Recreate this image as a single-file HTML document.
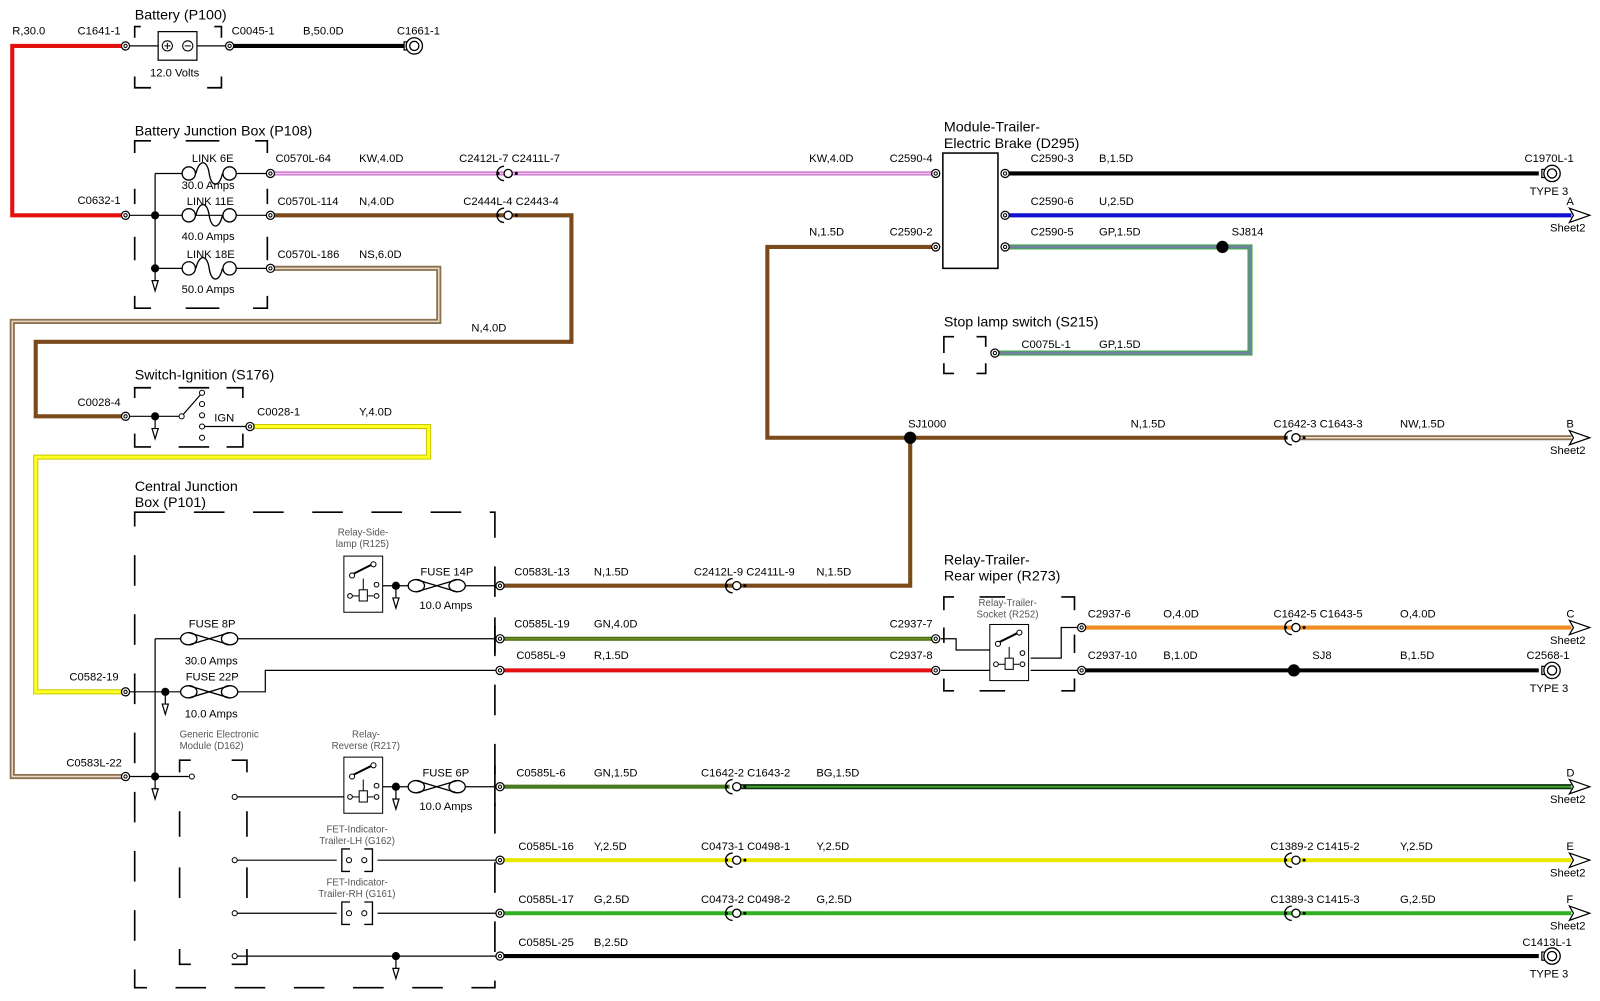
<!DOCTYPE html>
<html><head><meta charset="utf-8"><style>
html,body{margin:0;padding:0;background:#fff;}
svg{display:block;font-family:"Liberation Sans",sans-serif;}
.t{font-size:11px;fill:#000;}
.h{font-size:14px;fill:#000;}
.g{font-size:9.5px;fill:#555;}
</style></head><body>
<svg width="1600" height="1001" viewBox="0 0 1568 981" preserveAspectRatio="none" xmlns="http://www.w3.org/2000/svg">
<defs>
<g id="c"><circle r="4" fill="#fff" stroke="#000" stroke-width="1.2"/><circle r="1.6" fill="none" stroke="#000" stroke-width="1"/></g>
<g id="inl"><path d="M-2,-7 A7,7 0 0 0 -2,7" fill="none" stroke="#000" stroke-width="1.3"/><circle cx="2" r="4" fill="#fff" stroke="#000" stroke-width="1.3"/><circle cx="-8" r="1.5"/><circle cx="10" r="1.5"/></g>
<g id="fuse" fill="none" stroke="#000" stroke-width="1.3"><ellipse cx="-20" rx="8" ry="6" fill="#fff"/><ellipse cx="20" rx="8" ry="6" fill="#fff"/><path d="M-20,-6 L20,6 M-20,6 L20,-6"/></g>
<g id="link" fill="none" stroke="#000" stroke-width="1.3"><circle cx="-20" r="6.5" fill="#fff"/><circle cx="20" r="6.5" fill="#fff"/><path d="M-13,0 C-10,-14 -2,-14 0,0 C2,14 10,14 13,0"/></g>
<g id="gnd" fill="#fff" stroke="#000" stroke-width="1.2"><line x1="0" y1="0" x2="0" y2="12"/><path d="M-3,12 L3,12 L0,22 Z"/></g>
<g id="term"><rect x="-10" y="-4" width="5" height="8" fill="#fff" stroke="#000" stroke-width="1.2"/><circle r="8" fill="#fff" stroke="#000" stroke-width="1.3"/><circle r="4.5" fill="none" stroke="#000" stroke-width="1.3"/></g>
<g id="arr"><path d="M0,-7 L20,0 L0,7 L4,0 Z" fill="#fff" stroke="#000" stroke-width="1.2"/></g>
<g id="relay" fill="none" stroke="#000" stroke-width="1"><rect x="0" y="0" width="38" height="55" fill="#fff"/><line x1="8" y1="18" x2="28" y2="8" stroke-width="2"/><circle cx="8" cy="19" r="2.5" fill="#fff"/><circle cx="29" cy="8" r="2.5" fill="#fff"/><line x1="19" y1="22" x2="19" y2="33"/><rect x="15" y="33" width="8" height="11" fill="#fff"/><line x1="8" y1="39" x2="15" y2="39"/><line x1="23" y1="39" x2="29" y2="39"/><circle cx="6" cy="39" r="2.3" fill="#fff"/><circle cx="32" cy="39" r="2.3" fill="#fff"/><circle cx="32" cy="28" r="2.3" fill="#fff"/></g>
</defs>

<g fill="none" stroke-linejoin="miter">
<path d="M123,45 H12 V211 H123" stroke="#e41010" stroke-width="4"/>
<path d="M225,45 H398" stroke="#000" stroke-width="4"/>
<path d="M265,170 H917" stroke="#c870c8" stroke-width="4"/><path d="M265,170 H917" stroke="#f4c4f4" stroke-width="1.5"/>
<path d="M265,211 H560 V335 H35 V408 H123" stroke="#7a4a1a" stroke-width="4"/>
<path d="M265,263 H430 V315 H12 V761 H123" stroke="#8a7050" stroke-width="5"/><path d="M265,263 H430 V315 H12 V761 H123" stroke="#e8dcc8" stroke-width="1.5"/>
<path d="M245,418 H420 V448 H35 V678 H123" stroke="#c8c800" stroke-width="5"/><path d="M245,418 H420 V448 H35 V678 H123" stroke="#ffff20" stroke-width="3"/>
<path d="M985,170 H1508" stroke="#000" stroke-width="4"/>
<path d="M985,211 H1540" stroke="#1010d0" stroke-width="4"/>
<path d="M985,242 H1225 V346 H975" stroke="#40b040" stroke-width="5"/><path d="M985,242 H1225 V346 H975" stroke="#7080a0" stroke-width="3"/>
<path d="M917,242 H752 V429 H1262" stroke="#7a4a1a" stroke-width="4"/>
<path d="M892,429 V574 H490" stroke="#7a4a1a" stroke-width="4"/>
<path d="M1272,429 H1540" stroke="#8a7050" stroke-width="5"/><path d="M1272,429 H1540" stroke="#f0e4d0" stroke-width="1.5"/>
<path d="M490,626 H917" stroke="#4a6a10" stroke-width="4"/><path d="M490,626 H917" stroke="#6a9020" stroke-width="1.5"/>
<path d="M490,657 H917" stroke="#e41010" stroke-width="4"/>
<path d="M1062,615 H1540" stroke="#f08c20" stroke-width="4"/>
<path d="M1062,657 H1508" stroke="#000" stroke-width="4"/>
<path d="M490,771 H715" stroke="#4a7a20" stroke-width="4"/>
<path d="M725,771 H1540" stroke="#103010" stroke-width="5"/><path d="M725,771 H1540" stroke="#40a030" stroke-width="2"/>
<path d="M490,843 H1540" stroke="#e8e800" stroke-width="4"/>
<path d="M490,895 H1540" stroke="#30b020" stroke-width="4"/>
<path d="M490,937 H1508" stroke="#000" stroke-width="4"/>
</g>

<g fill="none" stroke="#000" stroke-width="1.2">
<path d="M127,45 H155 M193,45 H222"/>
<path d="M127,211 H265 M152,170 V263 M152,170 H178 M232,170 H265 M152,263 H178 M232,263 H265 M152,211 H178 M232,211 H265"/>
<path d="M127,408 H178 L198,385"/>
<path d="M198,418 H245"/>
<path d="M152,626 V761 M152,626 H178 M232,626 H490 M127,678 H178 M232,678 H260 V657 H490 M127,761 H185"/>
<path d="M375,574 H408 M448,574 H490"/>
<path d="M230,781 H340 M375,771 H408 M448,771 H490"/>
<path d="M230,843 H330 M370,843 H490 M230,895 H330 M370,895 H490 M230,937 H490"/>
<path d="M922,626 H937 V637 H975 M922,657 H970 M1010,645 H1040 V615 H1058 M1010,657 H1058"/>
</g>

<rect x="155" y="31" width="38" height="28" fill="#fff" stroke="#000" stroke-width="1.2"/>
<circle cx="164" cy="45" r="5" fill="none" stroke="#000"/><path d="M161,45 h6 M164,42 v6" stroke="#000"/>
<circle cx="184" cy="45" r="5" fill="none" stroke="#000"/><path d="M181,45 h6" stroke="#000"/>

<g fill="none" stroke="#000" stroke-width="1.6">
<path d="M132,37 V26 H138 M210,26 H217 V37 M132,75 V86 H148 M203,86 H217 V75"/>
<path d="M132,150 V138 H148 M182,138 H215 M250,138 H262 V150 M132,185 V200 M262,185 V200 M132,232 V255 M262,232 V255 M132,290 V302 H148 M182,302 H215 M248,302 H262 V290"/>
<path d="M132,390 V380 H148 M175,380 H205 M222,380 H238 V390 M132,425 V438 H148 M175,438 H205 M222,438 H238 V425"/>
<path d="M132,502 H485 V968 H132 Z" stroke-dasharray="30,28"/>
<path d="M176,757 V745 H187 M227,745 H242 V757 M176,795 V820 M242,795 V820 M176,850 V880 M242,850 V880 M176,930 V945 H187 M227,945 H242 V930"/>
<path d="M925,346 V330 H935 M957,330 H966 V340 M925,356 V366 H935 M957,366 H966 V356"/>
<path d="M925,598 V585 H935 M960,585 H985 M1040,585 H1053 V598 M925,615 V630 M1053,622 V640 M925,665 V677 H935 M960,677 H985 M1040,677 H1053 V665"/>
</g>
<g stroke="#000" stroke-width="1.6"><path d="M485,605 V640 M485,750 V790"/></g>

<g fill="#fff" stroke="#000" stroke-width="1"><circle cx="178" cy="408" r="2.5"/><circle cx="198" cy="385" r="2.5"/><circle cx="198" cy="396" r="2.5"/><circle cx="198" cy="407" r="2.5"/><circle cx="198" cy="418" r="2.5"/><circle cx="198" cy="429" r="2.5"/>
<circle cx="188" cy="761" r="2.5"/><circle cx="230" cy="781" r="2.5"/><circle cx="230" cy="843" r="2.5"/><circle cx="230" cy="895" r="2.5"/><circle cx="230" cy="937" r="2.5"/></g>

<use href="#link" x="205" y="170"/><use href="#link" x="205" y="211"/><use href="#link" x="205" y="263"/>
<use href="#fuse" x="205" y="626"/><use href="#fuse" x="205" y="678"/><use href="#fuse" x="428" y="574"/><use href="#fuse" x="428" y="771"/>
<use href="#relay" x="337" y="545"/><use href="#relay" x="337" y="742"/><use href="#relay" x="970" y="612"/>

<g fill="none" stroke="#000" stroke-width="1.3"><path d="M343,832 H335 V854 H343 M357,832 H365 V854 H357 M343,884 H335 V906 H343 M357,884 H365 V906 H357"/></g>
<g fill="#fff" stroke="#000"><circle cx="342" cy="843" r="2.5"/><circle cx="357" cy="843" r="2.5"/><circle cx="342" cy="895" r="2.5"/><circle cx="357" cy="895" r="2.5"/></g>

<rect x="924" y="150" width="54" height="113" fill="#fff" stroke="#000" stroke-width="1.5"/>

<g><circle cx="152" cy="211" r="4"/><circle cx="152" cy="263" r="4"/><circle cx="152" cy="408" r="4"/><circle cx="162" cy="678" r="4"/><circle cx="152" cy="761" r="4"/><circle cx="388" cy="574" r="4"/><circle cx="388" cy="771" r="4"/><circle cx="388" cy="937" r="4"/>
<circle cx="1198" cy="242" r="6"/><circle cx="892" cy="429" r="6"/><circle cx="1268" cy="657" r="6"/></g>
<use href="#gnd" x="152" y="263"/><use href="#gnd" x="152" y="408"/><use href="#gnd" x="162" y="678"/><use href="#gnd" x="152" y="761"/><use href="#gnd" x="388" y="574"/><use href="#gnd" x="388" y="771"/><use href="#gnd" x="388" y="937"/>

<use href="#c" x="123" y="45"/><use href="#c" x="225" y="45"/><use href="#c" x="123" y="211"/><use href="#c" x="265" y="170"/><use href="#c" x="265" y="211"/><use href="#c" x="265" y="263"/>
<use href="#c" x="123" y="408"/><use href="#c" x="245" y="418"/><use href="#c" x="123" y="678"/><use href="#c" x="123" y="761"/>
<use href="#c" x="490" y="574"/><use href="#c" x="490" y="626"/><use href="#c" x="490" y="657"/><use href="#c" x="490" y="771"/><use href="#c" x="490" y="843"/><use href="#c" x="490" y="895"/><use href="#c" x="490" y="937"/>
<use href="#c" x="917" y="170"/><use href="#c" x="917" y="242"/><use href="#c" x="985" y="170"/><use href="#c" x="985" y="211"/><use href="#c" x="985" y="242"/><use href="#c" x="975" y="346"/>
<use href="#c" x="917" y="626"/><use href="#c" x="917" y="657"/><use href="#c" x="1060" y="615"/><use href="#c" x="1060" y="657"/>
<use href="#inl" x="496" y="170"/><use href="#inl" x="496" y="211"/><use href="#inl" x="720" y="574"/><use href="#inl" x="720" y="771"/><use href="#inl" x="720" y="843"/><use href="#inl" x="720" y="895"/>
<use href="#inl" x="1268" y="429"/><use href="#inl" x="1268" y="615"/><use href="#inl" x="1268" y="843"/><use href="#inl" x="1268" y="895"/>
<use href="#term" x="406" y="45"/><use href="#term" x="1521" y="170"/><use href="#term" x="1521" y="657"/><use href="#term" x="1521" y="937"/>
<use href="#arr" x="1538" y="211"/><use href="#arr" x="1538" y="429"/><use href="#arr" x="1538" y="615"/><use href="#arr" x="1538" y="771"/><use href="#arr" x="1538" y="843"/><use href="#arr" x="1538" y="895"/>

<g class="h">
<text x="132" y="19">Battery (P100)</text>
<text x="132" y="133">Battery Junction Box (P108)</text>
<text x="132" y="372">Switch-Ignition (S176)</text>
<text x="132" y="481">Central Junction</text><text x="132" y="497">Box (P101)</text>
<text x="925" y="129">Module-Trailer-</text><text x="925" y="145">Electric Brake (D295)</text>
<text x="925" y="320">Stop lamp switch (S215)</text>
<text x="925" y="553">Relay-Trailer-</text><text x="925" y="569">Rear wiper (R273)</text>
</g>
<g class="t">
<text x="12" y="34">R,30.0</text><text x="76" y="34">C1641-1</text><text x="147" y="75">12.0 Volts</text>
<text x="227" y="34">C0045-1</text><text x="297" y="34">B,50.0D</text><text x="389" y="34">C1661-1</text>
<text x="188" y="159">LINK 6E</text><text x="178" y="185">30.0 Amps</text><text x="183" y="201">LINK  11E</text><text x="178" y="235">40.0 Amps</text><text x="183" y="253">LINK  18E</text><text x="178" y="287">50.0 Amps</text>
<text x="76" y="200">C0632-1</text>
<text x="270" y="159">C0570L-64</text><text x="352" y="159">KW,4.0D</text><text x="450" y="159">C2412L-7 C2411L-7</text>
<text x="272" y="201">C0570L-114</text><text x="352" y="201">N,4.0D</text><text x="454" y="201">C2444L-4 C2443-4</text>
<text x="272" y="253">C0570L-186</text><text x="352" y="253">NS,6.0D</text>
<text x="462" y="325">N,4.0D</text>
<text x="76" y="398">C0028-4</text><text x="210" y="413">IGN</text><text x="252" y="407">C0028-1</text><text x="352" y="407">Y,4.0D</text>
<text x="793" y="159">KW,4.0D</text><text x="914" y="159" text-anchor="end">C2590-4</text>
<text x="793" y="231">N,1.5D</text><text x="914" y="231" text-anchor="end">C2590-2</text>
<text x="1010" y="159">C2590-3</text><text x="1077" y="159">B,1.5D</text><text x="1494" y="159">C1970L-1</text><text x="1499" y="191">TYPE 3</text>
<text x="1010" y="201">C2590-6</text><text x="1077" y="201">U,2.5D</text><text x="1535" y="201">A</text><text x="1519" y="227">Sheet2</text>
<text x="1010" y="231">C2590-5</text><text x="1077" y="231">GP,1.5D</text><text x="1207" y="231">SJ814</text>
<text x="1001" y="341">C0075L-1</text><text x="1077" y="341">GP,1.5D</text>
<text x="890" y="419">SJ1000</text><text x="1108" y="419">N,1.5D</text><text x="1248" y="419">C1642-3 C1643-3</text><text x="1372" y="419">NW,1.5D</text><text x="1535" y="419">B</text><text x="1519" y="445">Sheet2</text>
<text x="412" y="564">FUSE 14P</text><text x="411" y="597">10.0 Amps</text>
<text x="504" y="564">C0583L-13</text><text x="582" y="564">N,1.5D</text><text x="680" y="564">C2412L-9 C2411L-9</text><text x="800" y="564">N,1.5D</text>
<text x="185" y="615">FUSE 8P</text><text x="181" y="651">30.0 Amps</text><text x="182" y="667">FUSE 22P</text><text x="181" y="703">10.0 Amps</text>
<text x="68" y="667">C0582-19</text><text x="65" y="751">C0583L-22</text>
<text x="504" y="615">C0585L-19</text><text x="582" y="615">GN,4.0D</text><text x="914" y="615" text-anchor="end">C2937-7</text>
<text x="506" y="646">C0585L-9</text><text x="582" y="646">R,1.5D</text><text x="914" y="646" text-anchor="end">C2937-8</text>
<text x="1066" y="605">C2937-6</text><text x="1140" y="605">O,4.0D</text><text x="1248" y="605">C1642-5 C1643-5</text><text x="1372" y="605">O,4.0D</text><text x="1535" y="605">C</text><text x="1519" y="631">Sheet2</text>
<text x="1066" y="646">C2937-10</text><text x="1140" y="646">B,1.0D</text><text x="1286" y="646">SJ8</text><text x="1372" y="646">B,1.5D</text><text x="1496" y="646">C2568-1</text><text x="1499" y="678">TYPE 3</text>
<text x="414" y="761">FUSE 6P</text><text x="411" y="794">10.0 Amps</text>
<text x="506" y="761">C0585L-6</text><text x="582" y="761">GN,1.5D</text><text x="687" y="761">C1642-2 C1643-2</text><text x="800" y="761">BG,1.5D</text><text x="1535" y="761">D</text><text x="1519" y="787">Sheet2</text>
<text x="508" y="833">C0585L-16</text><text x="582" y="833">Y,2.5D</text><text x="687" y="833">C0473-1 C0498-1</text><text x="800" y="833">Y,2.5D</text><text x="1245" y="833">C1389-2 C1415-2</text><text x="1372" y="833">Y,2.5D</text><text x="1535" y="833">E</text><text x="1519" y="859">Sheet2</text>
<text x="508" y="885">C0585L-17</text><text x="582" y="885">G,2.5D</text><text x="687" y="885">C0473-2 C0498-2</text><text x="800" y="885">G,2.5D</text><text x="1245" y="885">C1389-3 C1415-3</text><text x="1372" y="885">G,2.5D</text><text x="1535" y="885">F</text><text x="1519" y="911">Sheet2</text>
<text x="508" y="927">C0585L-25</text><text x="582" y="927">B,2.5D</text><text x="1492" y="927">C1413L-1</text><text x="1499" y="958">TYPE 3</text>
</g>
<g class="g">
<text x="331" y="525">Relay-Side-</text><text x="329" y="536">lamp (R125)</text>
<text x="176" y="723">Generic Electronic</text><text x="176" y="734">Module (D162)</text>
<text x="345" y="723">Relay-</text><text x="325" y="734">Reverse (R217)</text>
<text x="320" y="816">FET-Indicator-</text><text x="313" y="827">Trailer-LH (G162)</text>
<text x="320" y="868">FET-Indicator-</text><text x="312" y="879">Trailer-RH (G161)</text>
<text x="959" y="594">Relay-Trailer-</text><text x="957" y="605">Socket (R252)</text>
</g>
</svg>
</body></html>
